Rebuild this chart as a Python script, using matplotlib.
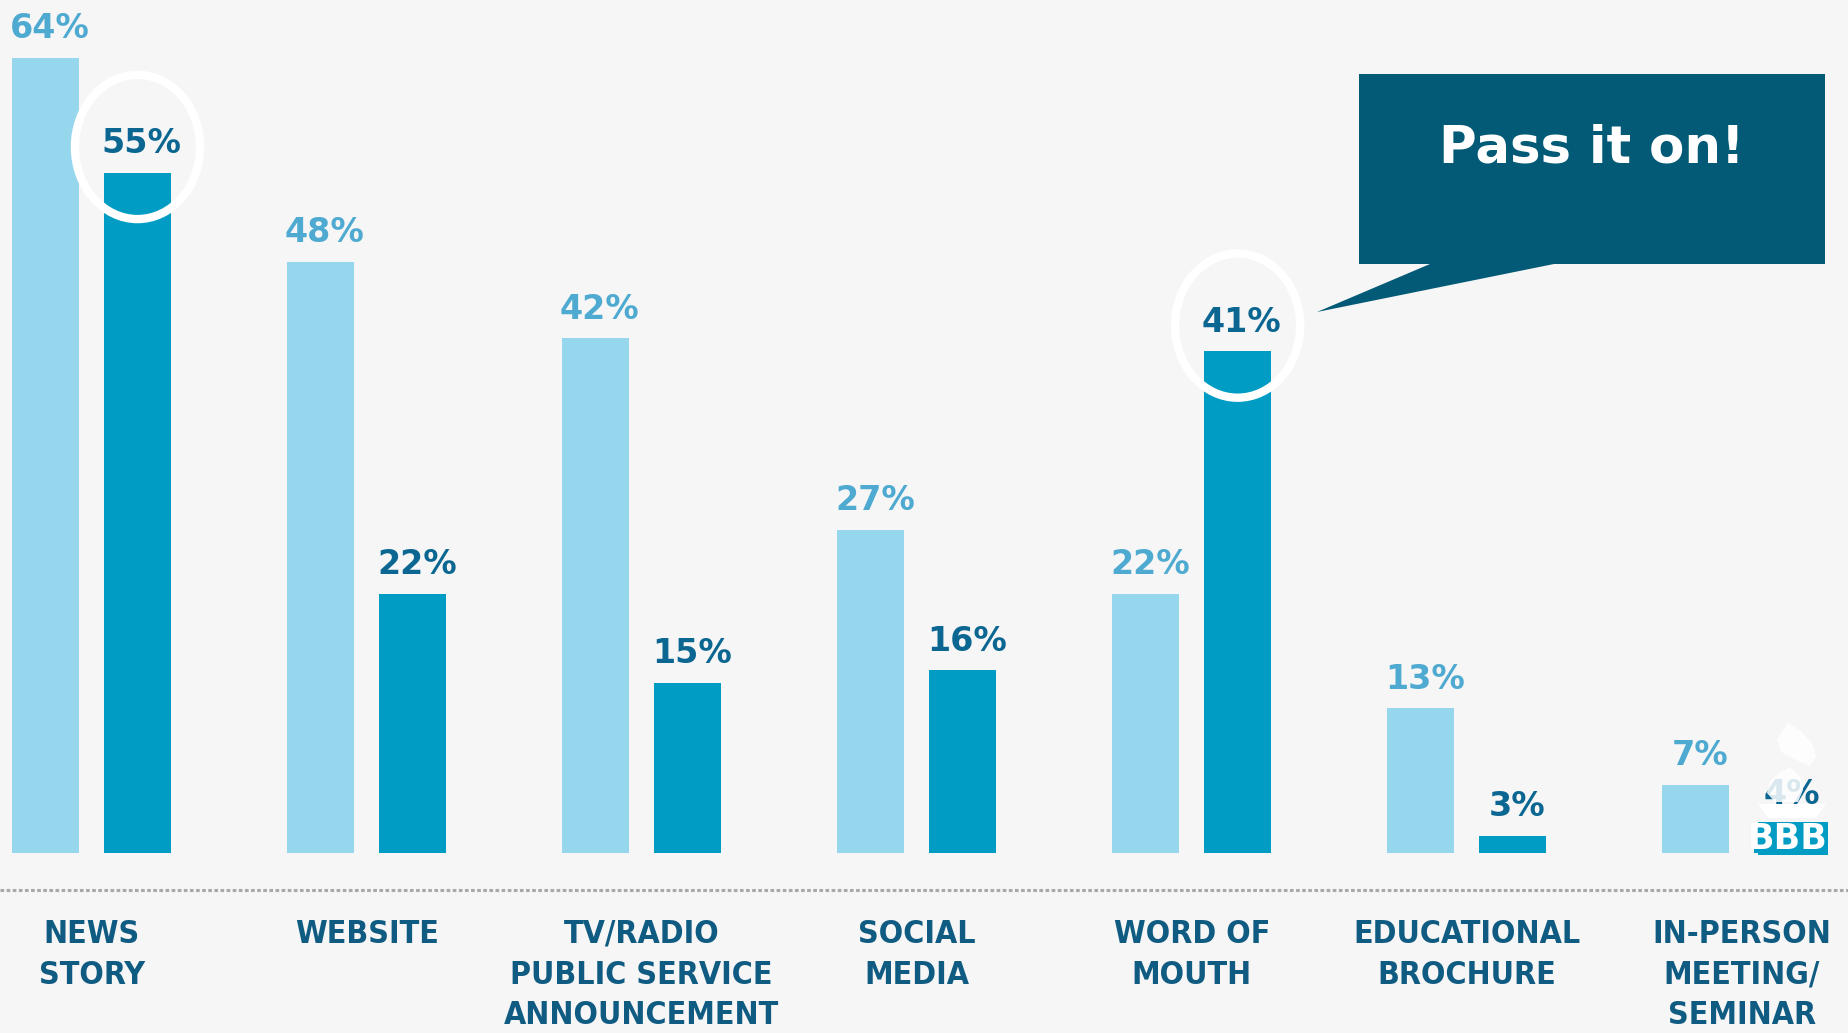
import matplotlib.pyplot as plt
from matplotlib import font_manager
from matplotlib.patches import Ellipse, Polygon, Rectangle

# data
categories = ['NEWS\nSTORY', 'WEBSITE', 'TV/RADIO\nPUBLIC SERVICE\nANNOUNCEMENT', 'SOCIAL\nMEDIA',
              'WORD OF\nMOUTH', 'EDUCATIONAL\nBROCHURE', 'IN-PERSON\nMEETING/\nSEMINAR']
light_vals = [64, 48, 42, 27, 22, 13, 7]
dark_vals = [55, 22, 15, 16, 41, 3, 4]
circled = [0, 4]  # groups whose dark value is ringed
bar_floor = 1.67  # bars are cut off a little above zero in the original

BG = '#f6f6f6'
LIGHT = '#97d7ee'
DARK = '#009cc4'
LIGHT_TXT = '#4eaad0'
DARK_TXT = '#0b6791'
CAT_TXT = '#0f5b82'
BOX = '#035a76'

# look for a narrow bold face for the category names
cat_family, cat_stretch, cat_size = 'Liberation Sans', 'normal', 21
for f in font_manager.fontManager.ttflist:
    narrow = ('Narrow' in f.name or 'Condensed' in f.name or
              f.stretch in ('condensed', 'semi-condensed', 'extra-condensed', 'ultra-condensed'))
    if narrow and f.weight in (600, 700, 'bold', 'semibold', 'demibold'):
        cat_family, cat_stretch, cat_size = f.name, f.stretch, 23
        break

W, H = 1849, 1033
fig = plt.figure(figsize=(W / 100, H / 100), dpi=100, facecolor=BG)
ax = fig.add_axes([0, 0, 1, 1])
ax.set_facecolor(BG)
ax.set_xlim(-0.333, 6.39)
ax.set_ylim(-12.44, 68.52)
ax.axis('off')

x = list(range(len(categories)))
off = 0.167
bw = 0.244
xl = [i - off for i in x]
xd = [i + off for i in x]
ax.bar(xl, [v - bar_floor for v in light_vals], bottom=bar_floor, width=bw, color=LIGHT, zorder=2)
ax.bar(xd, [v - bar_floor for v in dark_vals], bottom=bar_floor, width=bw, color=DARK, zorder=2)

for xi, v in zip(xl, light_vals):
    ax.annotate(f'{v}%', (xi, v), xytext=(3, 9), textcoords='offset points',
                ha='center', va='bottom', fontsize=24, fontweight='bold',
                color=LIGHT_TXT, family='DejaVu Sans', zorder=3)
for xi, v in zip(xd, dark_vals):
    ax.annotate(f'{v}%', (xi, v), xytext=(3, 9), textcoords='offset points',
                ha='center', va='bottom', fontsize=24, fontweight='bold',
                color=DARK_TXT, family='DejaVu Sans', zorder=3)

# dotted base line and category names
ax.axhline(-1.23, color='#a9a9a9', lw=2.2, linestyle=(0, (1.2, 0.8)), zorder=1)
for xi, lab in zip(x, categories):
    ax.text(xi, -3.5, lab, ha='center', va='top', fontsize=cat_size, fontweight='bold',
            color=CAT_TXT, family=[cat_family, 'DejaVu Sans'], fontstretch=cat_stretch,
            linespacing=1.4, zorder=3)

# white rings round the highlighted values
for i in circled:
    ax.add_patch(Ellipse((xd[i], dark_vals[i] + 2.0), 0.455, 11.3, fill=False,
                         ec='white', lw=6, zorder=4))


def px(xp, yp):
    return (xp / W, 1 - yp / H)


# speech bubble
bubble = [px(1359, 74), px(1825, 74), px(1825, 264), px(1554, 264),
          px(1317, 312), px(1430, 264), px(1359, 264)]
ax.add_patch(Polygon(bubble, closed=True, fc=BOX, ec='none',
                     transform=ax.transAxes, zorder=5))
ax.text(*px(1592, 148), 'Pass it on!', transform=ax.transAxes, ha='center',
        va='center', fontsize=37, fontweight='bold', color='white',
        family='DejaVu Sans', zorder=6)

# BBB torch logo over the last dark bar
flame_top = [px(1788, 723), px(1801, 731), px(1812, 743), px(1816, 756), px(1810, 766),
             px(1796, 760), px(1781, 752), px(1777, 740), px(1783, 730)]
flame_low = [px(1790, 767), px(1800, 777), px(1803, 790), px(1798, 802), px(1775, 802),
             px(1767, 793), px(1770, 781), px(1780, 772)]
for shape in (flame_top, flame_low):
    ax.add_patch(Polygon(shape, closed=True, fc='white', ec='none', alpha=0.85,
                         transform=ax.transAxes, zorder=7))
cup = [px(1758, 804), px(1826, 804), px(1816, 818), px(1768, 818)]
ax.add_patch(Polygon(cup, closed=True, fc='white', ec='none',
                     transform=ax.transAxes, zorder=7))
ax.add_patch(Rectangle(px(1758, 855), 70 / W, 33 / H, fc=DARK, ec='none',
                       transform=ax.transAxes, zorder=7))
ax.text(*px(1788, 839), 'BBB', transform=ax.transAxes, ha='center', va='center',
        fontsize=25, fontweight='bold', color='white',
        family='DejaVu Sans', zorder=8)

fig.savefig('out.png', dpi=100, facecolor=BG)
